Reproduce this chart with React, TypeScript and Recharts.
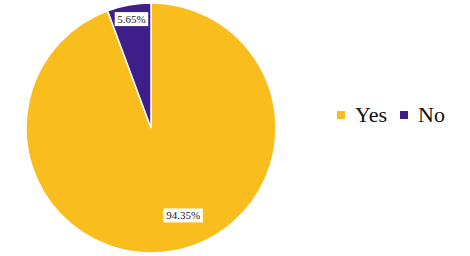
import { PieChart, Pie, Cell, Legend } from 'recharts'

const categories = ['Yes', 'No']
const shares = [94.35, 5.65]
const colors = ['#F9BD1D', '#3E1E89']

const data = categories.map((name, i) => ({ name, value: shares[i] }))

const RADIAN = Math.PI / 180
const FONT = '"Liberation Serif", "Times New Roman", serif'

// eslint-disable-next-line @typescript-eslint/no-explicit-any
const renderLabel = ({ cx, cy, midAngle, outerRadius, index }: any) => {
  // big slice label sits further in and a bit rotated, like the original
  const big = shares[index] > 50
  const r = outerRadius * (big ? 0.745 : 0.885)
  const angle = (midAngle + (big ? 10 : 0)) * RADIAN
  const x = cx + r * Math.cos(angle)
  const y = cy - r * Math.sin(angle)
  const text = `${shares[index].toFixed(2)}%`
  const w = text.length * 5.9 + 4
  return (
    <g>
      <rect x={x - w / 2} y={y - 7} width={w} height={14} fill="#ffffff" />
      <text
        x={x}
        y={y}
        textAnchor="middle"
        dominantBaseline="central"
        fill="#222"
        fontSize={11}
        fontFamily={FONT}
      >
        {text}
      </text>
    </g>
  )
}

const LegendContent = () => (
  <div style={{ display: 'flex', alignItems: 'center', fontFamily: FONT, fontSize: 22, color: '#111' }}>
    {categories.map((c, i) => (
      <div key={c} style={{ display: 'flex', alignItems: 'center', marginRight: 13 }}>
        <span style={{ width: 8, height: 8, background: colors[i], marginRight: 10, display: 'inline-block' }} />
        <span>{c}</span>
      </div>
    ))}
  </div>
)

export default function App() {
  return (
    <div style={{ position: 'absolute', left: 0, top: 0, width: 470, height: 256, background: '#fff' }}>
      <PieChart width={470} height={256} margin={{ top: 0, right: 0, bottom: 0, left: 0 }}>
        <Pie
          data={data}
          dataKey="value"
          nameKey="name"
          cx={151}
          cy={128}
          outerRadius={125}
          startAngle={90}
          endAngle={-270}
          stroke="#ffffff"
          strokeWidth={1.5}
          label={renderLabel}
          labelLine={false}
          isAnimationActive={false}
        >
          {data.map((d, i) => (
            <Cell key={d.name} fill={colors[i]} />
          ))}
        </Pie>
        <Legend
          content={<LegendContent />}
          wrapperStyle={{ position: 'absolute', left: 337, top: 102, width: 130 }}
        />
      </PieChart>
    </div>
  )
}
